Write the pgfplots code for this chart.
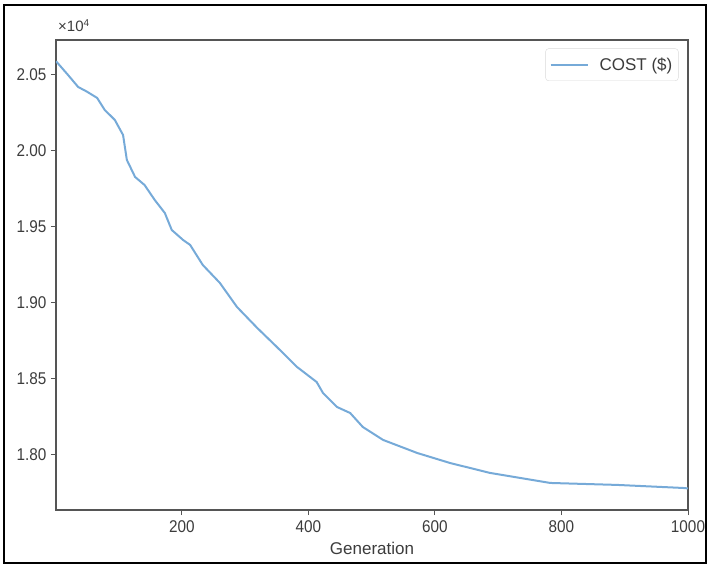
\documentclass[border=0pt]{standalone}
\usepackage{pgfplots}
\pgfplotsset{compat=1.18}
\usepackage{fontspec}
\setmainfont{Liberation Sans}
\newfontfamily\tickfont[FakeStretch=0.9]{Liberation Sans}
\definecolor{linec}{RGB}{118,170,216}
\definecolor{spine}{RGB}{85,85,85}
\definecolor{ticktext}{RGB}{60,60,60}
\begin{document}
\begin{tikzpicture}
\useasboundingbox (-56pt,-55pt) rectangle (651pt,510pt);
\draw[black,line width=1.3pt] (-52pt,-53pt) rectangle (650pt,505pt);
\begin{axis}[
  at={(0,0)}, anchor=south west,
  scale only axis,
  width=632pt, height=470pt,
  xmin=1, xmax=1000,
  ymin=17638, ymax=20730,
  xtick={200,400,600,800,1000},
  ytick={18000,18500,19000,19500,20000,20500},
  yticklabels={1.80,1.85,1.90,1.95,2.00,2.05},
  scaled y ticks=false,
  scaled x ticks=false,
  xtick pos=bottom, ytick pos=left,
  /pgf/number format/assume math mode=true,
  /pgf/number format/1000 sep={},
  tick align=outside,
  major tick length=5pt,
  tick style={spine, line width=1pt},
  axis line style={spine, line width=1.5pt},
  tick label style={font=\tickfont\fontsize{17}{20}\selectfont, text=ticktext},
  xticklabel style={yshift=-2pt},
  yticklabel style={xshift=-1pt},
  xlabel={Generation},
  xlabel style={font=\fontsize{17}{20}\selectfont, text=ticktext, yshift=-3pt},
  legend style={at={(0.985,0.982)}, anchor=north east, draw=black!15, rounded corners=3pt,
    font=\fontsize{17}{20}\selectfont, text=ticktext, inner xsep=4pt, inner ysep=7pt},
  legend cell align=left,
  legend image code/.code={\draw[#1] (0pt,0pt) -- (37pt,0pt);},
  clip=true,
]
\addplot[linec, line width=2pt] coordinates {
(1,20590) (2,20586) (20,20500) (36,20421) (50,20390) (66,20349) (78,20270)
(94,20204) (107,20105) (113,19941) (126,19829) (141,19776) (157,19678)
(173,19592) (184,19480) (202,19414) (213,19382) (233,19250) (260,19132)
(287,18974) (319,18836) (350,18711) (382,18579) (413,18480) (423,18408)
(445,18316) (466,18276) (486,18184) (518,18099) (572,18013) (624,17947)
(687,17882) (782,17816) (888,17803) (992,17783) (1000,17780)
};
\addlegendentry{\hspace{9pt}COST (\$)}
\end{axis}
\node[anchor=south west, font=\fontsize{15}{18}\selectfont, text=ticktext, inner sep=0pt] at (2pt,478pt) {×10\raisebox{0.6ex}{\fontsize{10}{12}\selectfont 4}};
\end{tikzpicture}
\end{document}
